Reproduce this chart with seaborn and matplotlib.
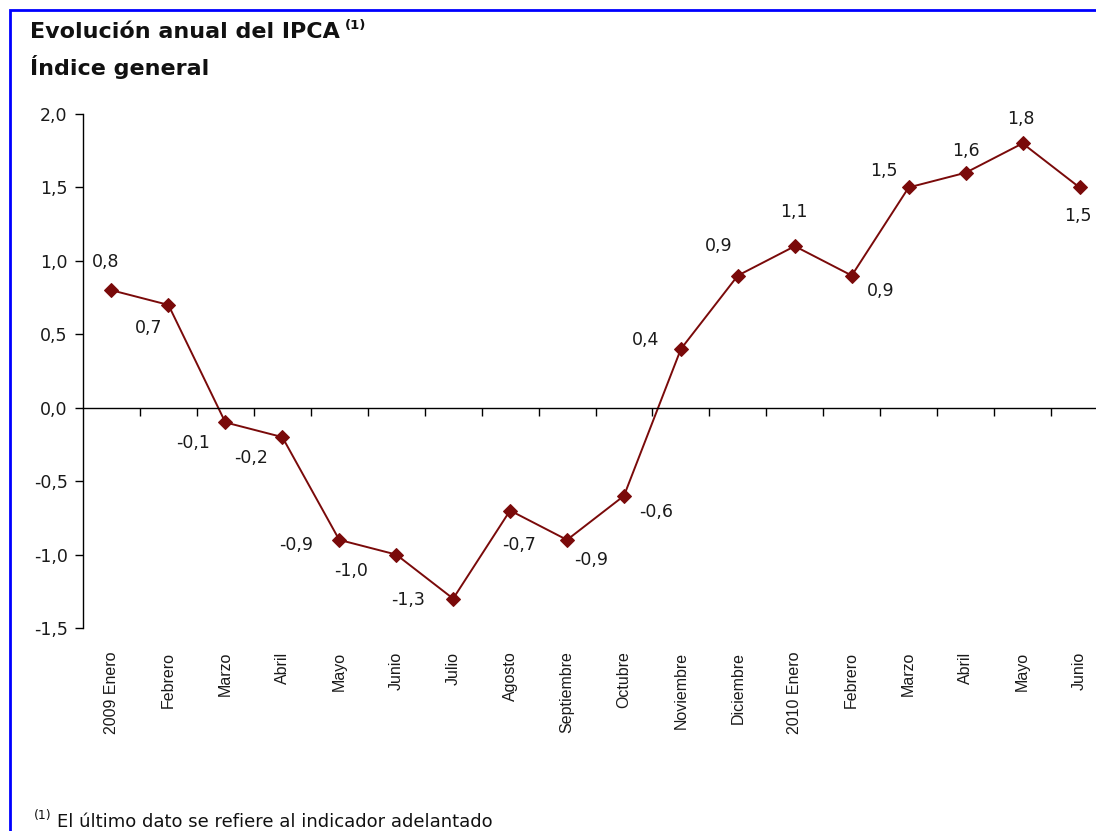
import matplotlib
matplotlib.use("Agg")
import matplotlib.pyplot as plt
import matplotlib.patches as mpatches
from matplotlib.ticker import FuncFormatter, FixedLocator
import seaborn as sns
import pandas as pd
import numpy as np

# ---- data ----
months = ["2009 Enero", "Febrero", "Marzo", "Abril", "Mayo", "Junio", "Julio",
          "Agosto", "Septiembre", "Octubre", "Noviembre", "Diciembre",
          "2010 Enero", "Febrero", "Marzo", "Abril", "Mayo", "Junio"]
ipca = [0.8, 0.7, -0.1, -0.2, -0.9, -1.0, -1.3, -0.7, -0.9, -0.6,
        0.4, 0.9, 1.1, 0.9, 1.5, 1.6, 1.8, 1.5]
yticks = [-1.5, -1.0, -0.5, 0.0, 0.5, 1.0, 1.5, 2.0]
title1 = "Evolución anual del IPCA"
title2 = "Índice general"
footnote = "El último dato se refiere al indicador adelantado"

# label offsets in pixels (dx, dy up)
label_offsets = [(-6, 28), (-20, -23), (-32, -21), (-31, -21), (-43, -5),
                 (-45, -16), (-45, -1), (9, -34), (24, -20), (32, -16),
                 (-35, 9), (-19, 30), (-1, 34), (29, -15), (-25, 16),
                 (0, 22), (-2, 24), (-2, -29)]

sns.set_theme(style="white")
plt.rcParams["font.family"] = ["Liberation Sans", "DejaVu Sans"]
WIDE = ["DejaVu Sans"]

W, H = 1096, 831
fig = plt.figure(figsize=(W / 100, H / 100), dpi=100)

# axes placement
left_px, right_px = 83, 1108
top_px, bot_px = 114, 628
ax = fig.add_axes([left_px / W, 1 - bot_px / H, (right_px - left_px) / W, (bot_px - top_px) / H])

df = pd.DataFrame({"x": np.arange(len(ipca)), "v": ipca})
sns.lineplot(data=df, x="x", y="v", ax=ax, color="#7A0A0A", linewidth=1.4,
             marker="D", markersize=7.5, markeredgecolor="#7A0A0A",
             markerfacecolor="#7A0A0A")

ax.set_xlim(-0.5, len(ipca) - 0.5)
ax.set_ylim(-1.5, 2.0)
ax.set_xlabel("")
ax.set_ylabel("")

# y axis
ax.yaxis.set_major_locator(FixedLocator(yticks))
ax.yaxis.set_major_formatter(FuncFormatter(lambda v, p: f"{v:.1f}".replace(".", ",")))
ax.tick_params(axis="y", left=True, length=6, width=1, color="black",
               labelsize=12.5, labelcolor="#1a1a1a", pad=5, direction="out")
for lab in ax.get_yticklabels():
    lab.set_family(WIDE)

for s in ["top", "right"]:
    ax.spines[s].set_visible(False)
ax.spines["left"].set_color("black")
ax.spines["left"].set_linewidth(1)
ax.spines["bottom"].set_position(("data", 0))
ax.spines["bottom"].set_color("black")
ax.spines["bottom"].set_linewidth(1)

# boundary ticks on zero line
ax.xaxis.set_major_locator(FixedLocator(list(np.arange(len(ipca)) + 0.5)))
ax.tick_params(axis="x", bottom=True, length=6, width=1, color="black",
               labelbottom=False, direction="out")

# category labels at bottom
sec = ax.secondary_xaxis(0)
sec.set_xticks(np.arange(len(ipca)))
sec.set_xticklabels(months, rotation=90, fontsize=11.5, color="#1a1a1a")
sec.tick_params(length=0, pad=17)
sec.spines["bottom"].set_visible(False)

# data labels
for i, (v, (dx, dy)) in enumerate(zip(ipca, label_offsets)):
    ax.annotate(f"{v:.1f}".replace(".", ","), (i, v),
                xytext=(dx * 0.72, dy * 0.72), textcoords="offset points",
                ha="center", va="center", fontsize=12.5, color="#1a1a1a",
                family=WIDE)

# titles
fig.text(30 / W, 1 - 32 / H, title1, fontsize=16, fontweight="bold",
         ha="left", va="center", color="#111111", family=WIDE)
fig.text(345 / W, 1 - 25 / H, "(1)", fontsize=9.5, fontweight="bold",
         ha="left", va="center", color="#111111", family=WIDE)
fig.text(30 / W, 1 - 67 / H, title2, fontsize=16, fontweight="bold",
         ha="left", va="center", color="#111111", family=WIDE)

# footnote
fig.text(34 / W, 1 - 815 / H, "(1)", fontsize=9, ha="left", va="center",
         color="#111111", family=WIDE)
fig.text(57 / W, 1 - 822 / H, footnote, fontsize=13, ha="left", va="center",
         color="#111111", family=WIDE)

# blue frame
frame = mpatches.Rectangle((10 / W, -0.1), 1.2, 1 - 10 / H + 0.1,
                           transform=fig.transFigure, fill=False,
                           edgecolor="#0000FF", linewidth=2, clip_on=False)
fig.patches.append(frame)

fig.savefig("out.png", dpi=100)
